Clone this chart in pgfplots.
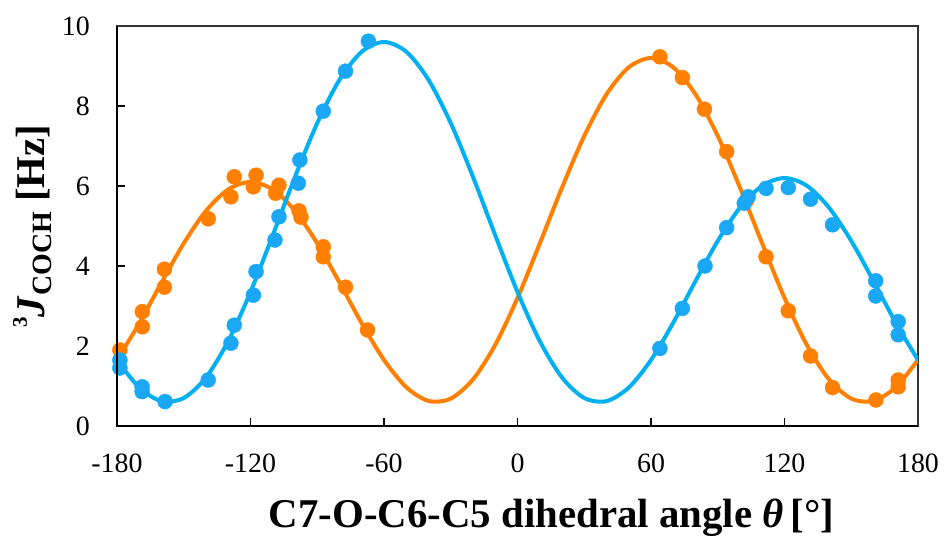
\documentclass[border=0pt]{standalone}
\usepackage{fontspec}
\setmainfont{Liberation Serif}
\usepackage{pgfplots}
\pgfplotsset{compat=1.18}
\definecolor{cblue}{HTML}{00B0F0}
\definecolor{cbluem}{HTML}{1AA8F5}
\definecolor{corange}{HTML}{FF8000}

\begin{document}
\begin{tikzpicture}
\useasboundingbox (0,0) rectangle (944bp,536bp);
\begin{axis}[
  at={(117bp,110bp)}, anchor=south west,
  scale only axis, width=801bp, height=400bp,
  xmin=-180, xmax=180, ymin=0, ymax=10,
  xtick={-180,-120,...,180}, ytick={0,2,...,10},
  tick align=inside, tick pos=left, major tick length=8bp,
  every tick/.style={black, line width=1.5bp},
  axis line style={line width=1.5bp, black!80},
  clip mode=individual,
  /pgf/number format/assume math mode=true,
  ticklabel style={font=\fontsize{28}{28}\selectfont, inner sep=0pt},
  xticklabel style={anchor=north, yshift=-28bp},
  yticklabel style={anchor=east, xshift=-27bp},
  xlabel={\bfseries C7-O-C6-C5 dihedral angle \textit{θ}\,[°]},
  xlabel style={at={(axis description cs:0.5424,-0.2525)}, anchor=base, font=\fontsize{41}{41}\selectfont, inner sep=0pt},
  ylabel={\bfseries\raisebox{18bp}{\fontsize{21}{21}\selectfont 3}\textit{J}\raisebox{-7bp}{\fontsize{28}{28}\selectfont COCH} [Hz]},
  ylabel style={at={(axis description cs:-0.0899,0.5)}, anchor=base, font=\fontsize{41}{41}\selectfont, inner sep=0pt},
]
\addplot[corange, line width=4bp, smooth, no markers] coordinates {
(-180,1.652) (-170,2.5671) (-160,3.5852) (-150,4.5667) (-140,5.3789) (-130,5.9135)
(-120,6.1) (-110,5.9135) (-100,5.3789) (-90,4.5667) (-80,3.5852) (-70,2.5671)
(-60,1.652) (-50,0.9705) (-40,0.6268) (-30,0.686) (-20,1.1652) (-10,2.0308)
(0,3.202) (10,4.5597) (20,5.960) (30,7.2513) (40,8.2919) (50,8.9665)
(60,9.2) (70,8.9665) (80,8.2919) (90,7.2513) (100,5.960) (110,4.5597)
(120,3.202) (130,2.0308) (140,1.1652) (150,0.686) (160,0.6268) (170,0.9705) (180,1.652)
};
\addplot[cblue, line width=4bp, smooth, no markers] coordinates {
(-180,1.65) (-170,0.9608) (-160,0.6219) (-150,0.7) (-140,1.2123) (-130,2.1237)
(-120,3.35) (-110,4.7676) (-100,6.2274) (-90,7.5723) (-80,8.6552) (-70,9.3571)
(-60,9.6) (-50,9.3571) (-40,8.6552) (-30,7.5723) (-20,6.2274) (-10,4.7676)
(0,3.35) (10,2.1237) (20,1.2123) (30,0.7) (40,0.6219) (50,0.9608)
(60,1.65) (70,2.5822) (80,3.6228) (90,4.6277) (100,5.4602) (110,6.0087)
(120,6.2) (130,6.0087) (140,5.4602) (150,4.6277) (160,3.6228) (170,2.5822) (180,1.65)
};
\addplot[only marks, mark=*, mark size=7.5bp, mark options={fill=corange, draw=corange}] coordinates {
(-178.7,1.9) (-168.6,2.86) (-168.6,2.48) (-158.7,3.92) (-158.7,3.47) (-139,5.18)
(-128.8,5.73) (-127.3,6.23) (-118.7,5.98) (-117.5,6.27) (-108.7,5.82) (-107.2,6.02)
(-98.2,5.38) (-97.3,5.22) (-87.3,4.48) (-87.3,4.23) (-77.3,3.47) (-67.4,2.4)
(64,9.23) (74.1,8.71) (84,7.92) (94,6.86) (103,5.65) (111.7,4.23)
(121.7,2.88) (131.7,1.75) (141.6,0.96) (161.1,0.65) (171.1,1.15) (171.1,0.98)
};
\addplot[only marks, mark=*, mark size=7.5bp, mark options={fill=cbluem, draw=cbluem}] coordinates {
(-178.7,1.65) (-178.7,1.45) (-168.7,0.98) (-168.7,0.86) (-158.4,0.61) (-139,1.15)
(-128.8,2.07) (-127.3,2.52) (-118.7,3.27) (-117.5,3.86) (-109,4.65) (-107.2,5.23)
(-98.5,6.07) (-97.8,6.65) (-87.3,7.87) (-77.3,8.87) (-67,9.62)
(64,1.94) (74.1,2.94) (84.3,4.0) (94,4.96) (101.9,5.57) (103.7,5.73)
(111.7,5.94) (121.7,5.96) (131.7,5.67) (141.6,5.03) (161,3.63) (161,3.25)
(171.1,2.61) (171.1,2.28)
};
\draw[line width=2.5bp, black] (rel axis cs:0,1) -- (rel axis cs:0,0) -- (rel axis cs:1,0);
\end{axis}
\end{tikzpicture}
\end{document}
